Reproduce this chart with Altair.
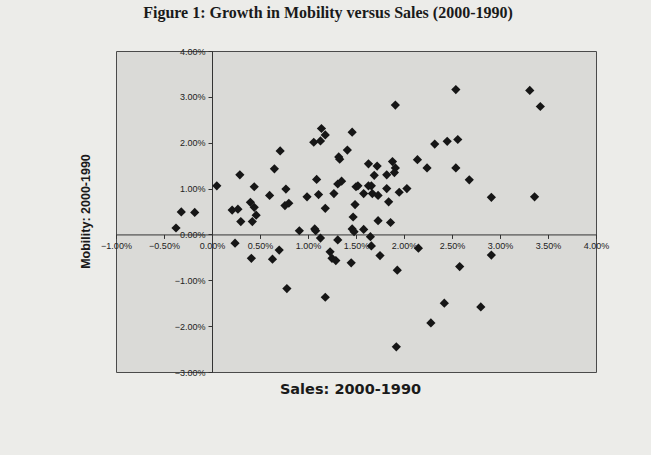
import altair as alt
import pandas as pd

# Sales growth 2000-1990 (%), Mobility growth 2000-1990 (%)
sales = [-0.375, -0.32, -0.18, 0.05, 0.21, 0.27, 0.29, 0.30, 0.40, 0.44,
         0.44, 0.46, 0.42, 0.60, 0.65, 0.71, 0.77, 0.76, 0.80, 0.91,
         0.99, 1.07, 1.08, 1.09, 1.11, 1.06, 1.13, 1.14, 1.18, 1.18,
         1.27, 1.31, 1.35, 1.32, 1.33, 1.41, 1.46, 1.50, 1.49, 1.47,
         1.46, 1.48, 1.13, 1.31, 2.54, 3.31, 3.42, 1.91, 2.32, 2.45,
         2.56, 2.14, 2.24, 2.54, 2.68, 2.91, 3.36, 1.63, 1.72, 1.88,
         1.91, 1.90, 1.82, 1.69, 1.52, 1.63, 1.66, 1.58, 1.67, 1.73,
         1.82, 1.95, 2.03, 1.84, 1.73, 1.86, 1.58, 1.65, 1.66, 1.75,
         1.45, 1.93, 2.15, 2.91, 2.58, 2.42, 2.80, 2.28, 1.92, 0.24,
         0.41, 0.63, 0.70, 0.78, 1.18, 1.23, 1.25, 1.29]
mobility = [0.14, 0.49, 0.48, 1.06, 0.53, 0.55, 1.30, 0.28, 0.70, 0.59,
            1.04, 0.42, 0.28, 0.85, 1.43, 1.82, 0.99, 0.63, 0.68, 0.08,
            0.82, 0.12, 0.08, 1.20, 0.87, 2.01, 2.04, 2.31, 2.17, 0.57,
            0.89, 1.10, 1.16, 1.69, 1.64, 1.84, 2.23, 1.04, 0.65, 0.38,
            0.12, 0.06, -0.08, -0.12, 3.16, 3.14, 2.79, 2.82, 1.97, 2.03,
            2.07, 1.63, 1.45, 1.45, 1.19, 0.81, 0.82, 1.54, 1.49, 1.59,
            1.45, 1.35, 1.30, 1.29, 1.06, 1.06, 1.06, 0.89, 0.89, 0.85,
            1.00, 0.92, 1.00, 0.71, 0.30, 0.26, 0.11, -0.05, -0.25, -0.46,
            -0.62, -0.78, -0.30, -0.45, -0.70, -1.50, -1.58, -1.93, -2.45, -0.19,
            -0.52, -0.54, -0.34, -1.18, -1.37, -0.38, -0.52, -0.57]

x_ticks = [-1.0, -0.5, 0.0, 0.5, 1.0, 1.5, 2.0, 2.5, 3.0, 3.5, 4.0]
y_ticks = [-3.0, -2.0, -1.0, 0.0, 1.0, 2.0, 3.0, 4.0]

df = pd.DataFrame({"sales": [v / 100 for v in sales],
                   "mobility": [v / 100 for v in mobility]})

W, H = 480, 321
x_zero = W * 1 / 5
y_zero = H * 4 / 7

chart = alt.Chart(df).mark_point(
    shape="diamond", filled=True, size=85, color="#161616", opacity=1
).encode(
    x=alt.X("sales:Q",
            scale=alt.Scale(domain=[-0.01, 0.04], nice=False, zero=False),
            axis=alt.Axis(values=[v / 100 for v in x_ticks], format=".2%",
                          orient="bottom", offset=-(H - y_zero), grid=False,
                          title="Sales: 2000-1990", titleX=234, titleY=155,
                          titleBaseline="middle", titleAnchor="start", titleAlign="center",
                          titleFont="DejaVu Sans", titleFontSize=14.5,
                          titleFontWeight="bold", titleColor="#1a1a1a",
                          labelFont="Liberation Sans", labelFontSize=9,
                          labelColor="#222222", labelPadding=3, tickSize=4,
                          tickColor="#333333", domainColor="#333333",
                          labelFlush=False, labelOverlap=False)),
    y=alt.Y("mobility:Q",
            scale=alt.Scale(domain=[-0.03, 0.04], nice=False, zero=False),
            axis=alt.Axis(values=[v / 100 for v in y_ticks], format=".2%",
                          orient="left", offset=-x_zero, grid=False,
                          title="Mobility: 2000-1990", titleX=-127, titleY=160,
                          titleAngle=270, titleBaseline="middle", titleAlign="center",
                          titleFont="Liberation Sans", titleFontSize=12.5,
                          titleFontWeight="bold", titleColor="#1a1a1a",
                          labelFont="Liberation Sans", labelFontSize=9,
                          labelColor="#222222", labelPadding=3, tickSize=4,
                          tickColor="#333333", domainColor="#333333",
                          labelFlush=False, labelOverlap=False)),
).properties(
    width=W, height=H,
    title=alt.TitleParams("Figure 1: Growth in Mobility versus Sales (2000-1990)",
                          font="Liberation Serif", fontSize=16, fontWeight="bold",
                          color="#1a1a1a", anchor="middle", dx=-28, offset=26),
    padding={"left": 116, "top": 51, "right": 55, "bottom": 83},
    autosize=alt.AutoSizeParams(type="none"),
    background="#ecece9",
).configure_view(
    fill="#dadad7", stroke="#4a4a4a", strokeWidth=1
)

chart.save("out.html", embed_options={"renderer": "svg", "actions": False})
